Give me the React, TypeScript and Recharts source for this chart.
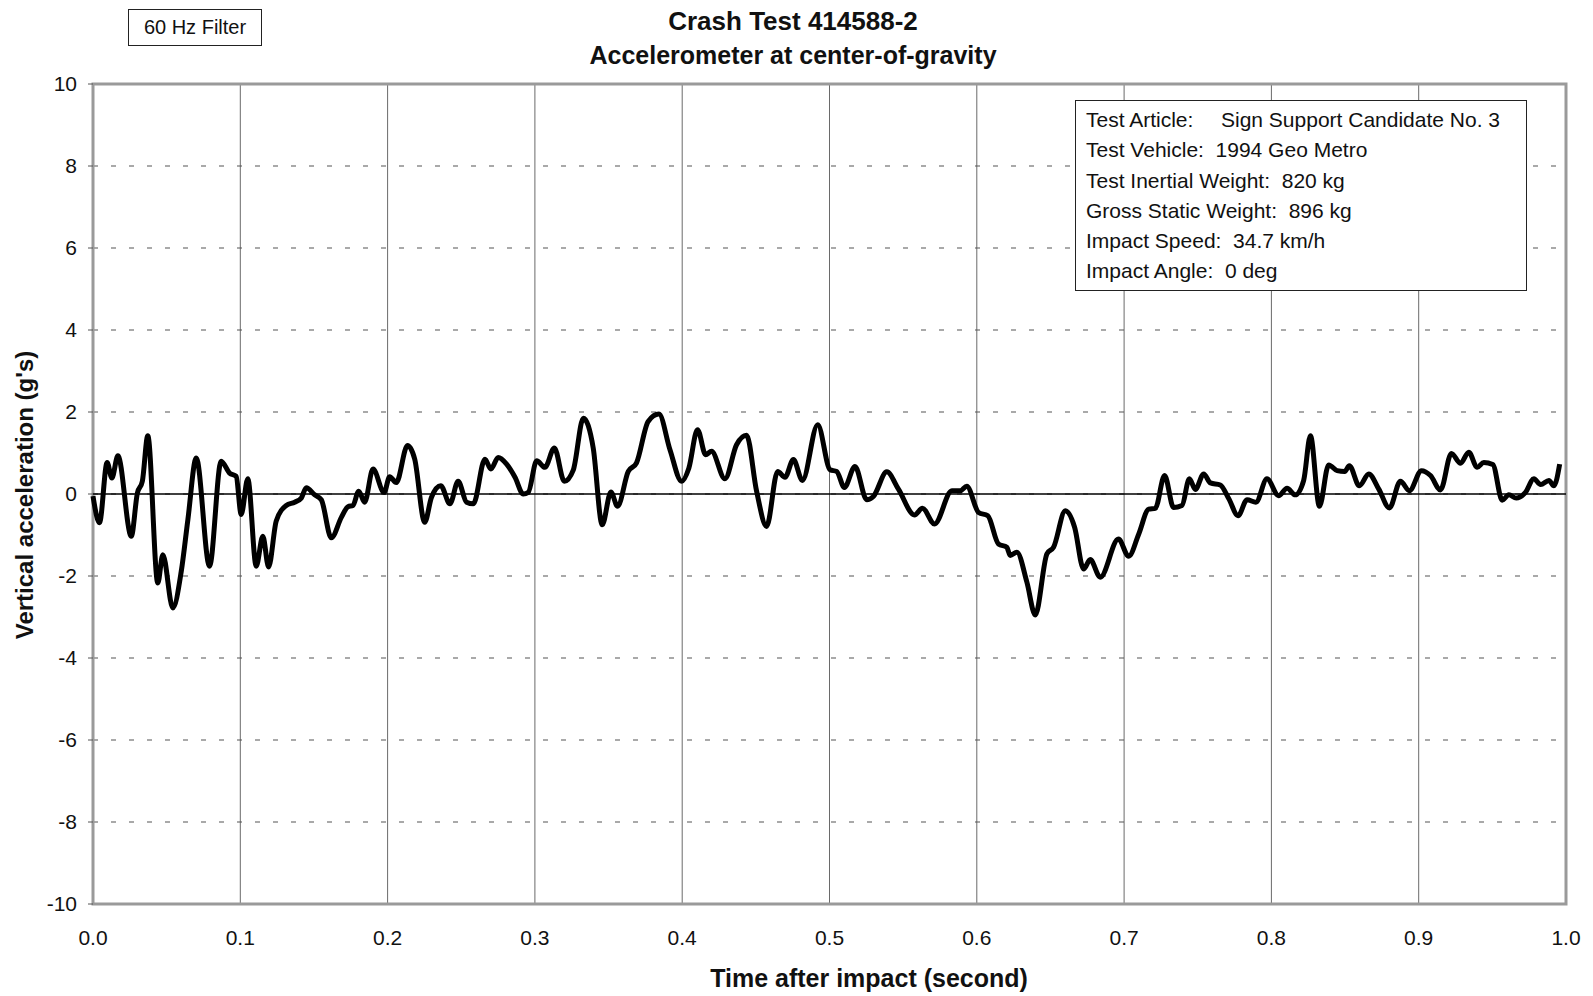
import React from "react";
import { LineChart, Line, XAxis, YAxis, CartesianGrid, ReferenceLine, ReferenceArea } from "recharts";

const timeValues: number[] = [
  0.0, 0.0044, 0.0096, 0.0128, 0.0169, 0.026, 0.0301, 0.0335, 0.0372, 0.044, 0.0474, 0.0542, 0.0599, 0.0644,
  0.0701, 0.0791, 0.087, 0.0927, 0.0972, 0.1006, 0.1051, 0.1108, 0.1153, 0.1192, 0.1244, 0.1312, 0.1369,
  0.1414, 0.1448, 0.1505, 0.155, 0.1618, 0.1686, 0.1731, 0.1765, 0.1804, 0.1844, 0.1901, 0.1976, 0.2014,
  0.2059, 0.2135, 0.2184, 0.2252, 0.2298, 0.2361, 0.2423, 0.2479, 0.2536, 0.2582, 0.2661, 0.2701, 0.2751,
  0.2808, 0.2865, 0.2921, 0.2955, 0.3012, 0.3068, 0.3132, 0.32, 0.3261, 0.3329, 0.3396, 0.3457, 0.3516,
  0.3561, 0.3634, 0.369, 0.3769, 0.3842, 0.3917, 0.3996, 0.4045, 0.4104, 0.4159, 0.4199, 0.429, 0.4369,
  0.4437, 0.4505, 0.4573, 0.4648, 0.4698, 0.4755, 0.4816, 0.492, 0.5004, 0.5049, 0.5101, 0.5173, 0.5253,
  0.5298, 0.5389, 0.5468, 0.5577, 0.5631, 0.5713, 0.5831, 0.5887, 0.5932, 0.6012, 0.6075, 0.6147, 0.6204,
  0.6227, 0.6272, 0.634, 0.6397, 0.6476, 0.6521, 0.6601, 0.6664, 0.6725, 0.677, 0.6838, 0.6962, 0.7031,
  0.7099, 0.7167, 0.7212, 0.7275, 0.7336, 0.7393, 0.7443, 0.7484, 0.754, 0.7586, 0.7653, 0.771, 0.7774,
  0.7835, 0.7895, 0.797, 0.8049, 0.8106, 0.8162, 0.8219, 0.8265, 0.8326, 0.8389, 0.8446, 0.8498, 0.8529,
  0.8597, 0.8661, 0.8729, 0.8801, 0.8876, 0.8937, 0.9019, 0.908, 0.9148, 0.9222, 0.9284, 0.934, 0.9397,
  0.9442, 0.9503, 0.9567, 0.9612, 0.9662, 0.9725, 0.9782, 0.9828, 0.9884, 0.9918, 0.9957,
];

const accelValues: number[] = [
  -0.05, -0.7, 0.77, 0.39, 0.93, -1.03, 0.02, 0.31, 1.42, -2.17, -1.48, -2.78, -1.89, -0.63,
  0.88, -1.76, 0.8, 0.51, 0.43, -0.5, 0.37, -1.76, -1.03, -1.78, -0.66, -0.28, -0.2,
  -0.1, 0.15, -0.02, -0.14, -1.07, -0.57, -0.31, -0.28, 0.07, -0.2, 0.61, 0.04, 0.42,
  0.28, 1.18, 0.85, -0.69, -0.08, 0.2, -0.24, 0.31, -0.2, -0.24, 0.85, 0.61, 0.89,
  0.73, 0.41, 0.0, 0.04, 0.81, 0.65, 1.12, 0.31, 0.59, 1.85, 1.12, -0.75, 0.05,
  -0.3, 0.55, 0.76, 1.77, 1.95, 1.08, 0.31, 0.63, 1.57, 0.96, 1.04, 0.37, 1.2,
  1.43, 0.07, -0.79, 0.55, 0.41, 0.84, 0.33, 1.69, 0.59, 0.55, 0.16, 0.67, -0.14,
  -0.06, 0.54, 0.12, -0.51, -0.35, -0.73, 0.08, 0.08, 0.19, -0.45, -0.53, -1.22, -1.3,
  -1.5, -1.42, -2.15, -2.95, -1.46, -1.3, -0.41, -0.81, -1.83, -1.6, -2.03, -1.1, -1.52,
  -0.98, -0.37, -0.35, 0.45, -0.33, -0.28, 0.37, 0.11, 0.49, 0.27, 0.22, -0.11, -0.53,
  -0.14, -0.2, 0.37, -0.04, 0.14, -0.02, 0.33, 1.42, -0.3, 0.71, 0.57, 0.55, 0.69,
  0.2, 0.49, 0.12, -0.34, 0.31, 0.08, 0.57, 0.45, 0.1, 0.99, 0.75, 1.02, 0.65,
  0.77, 0.72, -0.15, -0.02, -0.1, 0.04, 0.37, 0.23, 0.33, 0.2, 0.73,
];

const xTicks: number[] = [0, 0.1, 0.2, 0.3, 0.4, 0.5, 0.6, 0.7, 0.8, 0.9, 1.0];
const yTicks: number[] = [-10, -8, -6, -4, -2, 0, 2, 4, 6, 8, 10];

const titleText = "Crash Test 414588-2";
const subtitleText = "Accelerometer at center-of-gravity";
const filterText = "60 Hz Filter";
const xLabel = "Time after impact (second)";
const yLabel = "Vertical acceleration (g's)";
const infoLines: string[][] = [
  ["Test Article:", "Sign Support Candidate No. 3"],
  ["Test Vehicle:  1994 Geo Metro", ""],
  ["Test Inertial Weight:  820 kg", ""],
  ["Gross Static Weight:  896 kg", ""],
  ["Impact Speed:  34.7 km/h", ""],
  ["Impact Angle:  0 deg", ""],
];

const data = timeValues.map((t, i) => ({ t, a: accelValues[i] }));

const FONT = "'Liberation Sans', Arial, Helvetica, sans-serif";

export default function App() {
  return (
    <div style={{ position: "absolute", left: 0, top: 0, width: 1593, height: 996, background: "#fff", fontFamily: FONT, color: "#111" }}>
      <LineChart
        width={1593}
        height={996}
        data={data}
        margin={{ top: 84, right: 27, bottom: 0, left: 13 }}
      >
        <ReferenceArea x1={0} x2={1} y1={-10} y2={10} fill="none" stroke="#9a9a9a" strokeWidth={3} ifOverflow="visible" />
        <CartesianGrid horizontal={false} vertical={true} stroke="#6a6a6a" strokeWidth={1} />
        <CartesianGrid horizontal={true} vertical={false} stroke="#555" strokeWidth={1.2} strokeDasharray="5 13" />
        <XAxis
          dataKey="t"
          type="number"
          domain={[0, 1]}
          ticks={xTicks}
          tickFormatter={(v: number) => v.toFixed(1)}
          height={92}
          axisLine={false}
          tickLine={false}
          tickSize={5}
          tickMargin={21}
          tick={{ fontSize: 21, fill: "#111", fontFamily: FONT }}
          interval={0}
        />
        <YAxis
          type="number"
          domain={[-10, 10]}
          ticks={yTicks}
          width={80}
          axisLine={false}
          tickLine={{ stroke: "#555" }}
          tickSize={5}
          tickMargin={11}
          tick={{ fontSize: 21, fill: "#111", fontFamily: FONT }}
          interval={0}
        />
        <ReferenceLine y={0} stroke="#000" strokeWidth={1.6} />
        <Line
          type="monotone"
          dataKey="a"
          stroke="#000"
          strokeWidth={5}
          dot={false}
          isAnimationActive={false}
        />
      </LineChart>

      <div style={{ position: "absolute", left: 128, top: 9, width: 134, height: 37, border: "1.5px solid #222", boxSizing: "border-box", fontSize: 20, display: "flex", alignItems: "center", justifyContent: "center", background: "#fff" }}>
        {filterText}
      </div>

      <div style={{ position: "absolute", left: 493, width: 600, top: 5, textAlign: "center", fontSize: 26, fontWeight: "bold", lineHeight: "32px" }}>
        {titleText}
      </div>
      <div style={{ position: "absolute", left: 493, width: 600, top: 39, textAlign: "center", fontSize: 25, fontWeight: "bold", lineHeight: "32px" }}>
        {subtitleText}
      </div>

      <div style={{ position: "absolute", left: 619, width: 500, top: 963, textAlign: "center", fontSize: 25, fontWeight: "bold", lineHeight: "30px" }}>
        {xLabel}
      </div>
      <div style={{ position: "absolute", left: 25 - 200, width: 400, top: 495 - 15, height: 30, textAlign: "center", fontSize: 24, fontWeight: "bold", lineHeight: "30px", transform: "rotate(-90deg)", transformOrigin: "50% 50%" }}>
        {yLabel}
      </div>

      <div style={{ position: "absolute", left: 1075, top: 100, width: 452, height: 191, border: "1.5px solid #222", boxSizing: "border-box", background: "#fff", fontSize: 21, paddingTop: 4 }}>
        {infoLines.map((ln, i) => (
          <div key={i} style={{ position: "relative", height: 30.3, lineHeight: "30px", paddingLeft: 10, whiteSpace: "pre" }}>
            {ln[0]}
            {ln[1] ? <span style={{ position: "absolute", left: 145 }}>{ln[1]}</span> : null}
          </div>
        ))}
      </div>
    </div>
  );
}
